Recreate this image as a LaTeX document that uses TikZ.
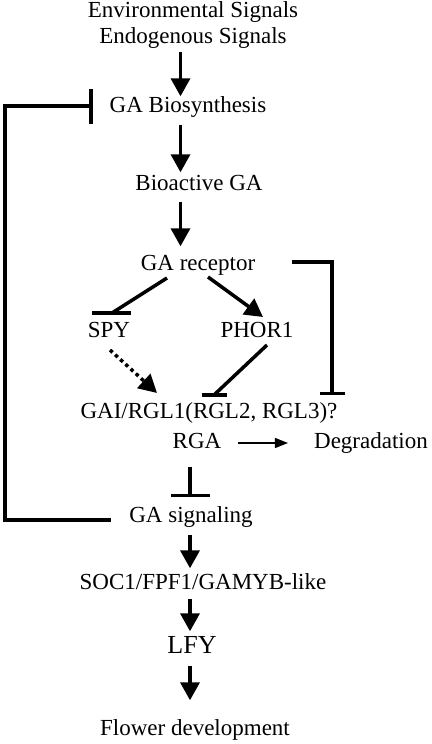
\documentclass[tikz,border=0pt]{standalone}
\usepackage{fontspec}
\setmainfont{Liberation Serif}
\usetikzlibrary{arrows.meta,calc}
\begin{document}
\begin{tikzpicture}[x=1pt,y=-1pt,
  lbl/.style={font=\fontsize{23}{27}\selectfont, inner sep=0pt, text height=16pt, text depth=5pt},
  biglbl/.style={font=\fontsize{26}{30}\selectfont, inner sep=0pt, text height=18pt, text depth=5pt},
  arr/.style={line width=3.5pt, -{Triangle[width=19pt,length=18pt]}},
  dotarr/.style={line width=3.5pt, dash pattern=on 3.5pt off 3.5pt, -{Triangle[width=19pt,length=18pt]}},
  inh/.style={line width=3.5pt},
  thinarr/.style={line width=1.4pt, -{Triangle[width=10pt,length=13pt]}}]
\useasboundingbox (0,0) rectangle (431,744);
% spines
\coordinate (spA) at (180.5,0);
\coordinate (spB) at (190,0);
\coordinate (fbx) at (5,0);
\coordinate (rbx) at (332,0);
% nodes
\node[lbl] (env1) at (193,12) {Environmental Signals};
\node[lbl] (env2) at (193,38) {Endogenous Signals};
\node[lbl] (bio)  at (188,107) {GA Biosynthesis};
\node[lbl] (bga)  at (199,185) {Bioactive GA};
\node[lbl] (rec)  at (198,265) {GA receptor};
\node[lbl] (spy)  at (109,332) {SPY};
\node[lbl] (phor) at (257,332) {PHOR1};
\node[lbl] (gai)  at (209,413) {GAI/RGL1(RGL2, RGL3)?};
\node[lbl] (rga)  at (197,443) {RGA};
\node[lbl] (deg)  at (371,443) {Degradation};
\node[lbl] (sig)  at (191,517) {GA signaling};
\node[lbl] (soc)  at (203,584) {SOC1/FPF1/GAMYB-like};
\node[biglbl] (lfy) at (192,647) {LFY};
\node[lbl] (flo)  at (195,730) {Flower development};
% main spine arrows
\draw[arr, shorten <=3pt] (env2.south -| spA) -- (bio.north -| spA);
\draw[arr, shorten <=7pt, shorten >=2pt] (bio.south -| spA) -- (bga.north -| spA);
\draw[arr, shorten <=6pt, shorten >=8pt] (bga.south -| spA) -- (rec.north -| spA);
% receptor branches
\draw[inh] ($(rec.center)+(-31,13)$) -- ($(spy.center)+(3,-19)$) coordinate (t1);
\draw[inh] ($(t1)+(-20,0)$) -- ($(t1)+(19,0)$);
\draw[arr] ($(rec.center)+(10,12)$) -- ($(phor.center)+(6,-15)$);
\draw[dotarr] ($(spy.center)+(1,18)$) -- ($(gai.center)+(-52,-20)$);
\draw[inh] ($(phor.center)+(10,13)$) -- ($(gai.center)+(5,-18)$) coordinate (t2);
\draw[inh] ($(t2)+(-12.5,0)$) -- ($(t2)+(12.5,0)$);
% right bracket
\draw[inh, -{Bar[width=25pt]}] ($(rec.center)+(94,-3)$) coordinate (rb0)
  -- (rb0 -| rbx) -- ($(gai.north -| rbx)+(0,-7)$);
% degradation
\draw[thinarr] ($(rga.east)+(17,0)$) -- ($(deg.west)+(-26,0)$);
% RGA inhibits GA signaling
\draw[inh, -{Bar[width=39pt]}, shorten <=13pt, shorten >=9pt] (rga.south -| spB) -- (sig.north -| spB);
% feedback
\coordinate (fbA) at ($(sig.west)+(-18,3)$);
\coordinate (fbB) at ($(bio.west)+(-17,-1)$);
\draw[inh, -{Bar[width=35pt]}] (fbA) -- (fbA -| fbx) -- (fbB -| fbx) -- (fbB);
% lower spine
\draw[arr, shorten <=7pt, shorten >=5pt] (sig.south -| spB) -- (soc.north -| spB);
\draw[arr, shorten <=4pt, shorten >=4pt] (soc.south -| spB) -- (lfy.north -| spB);
\draw[arr, shorten <=7pt, shorten >=19pt] (lfy.south -| spB) -- (flo.north -| spB);
\end{tikzpicture}
\end{document}
